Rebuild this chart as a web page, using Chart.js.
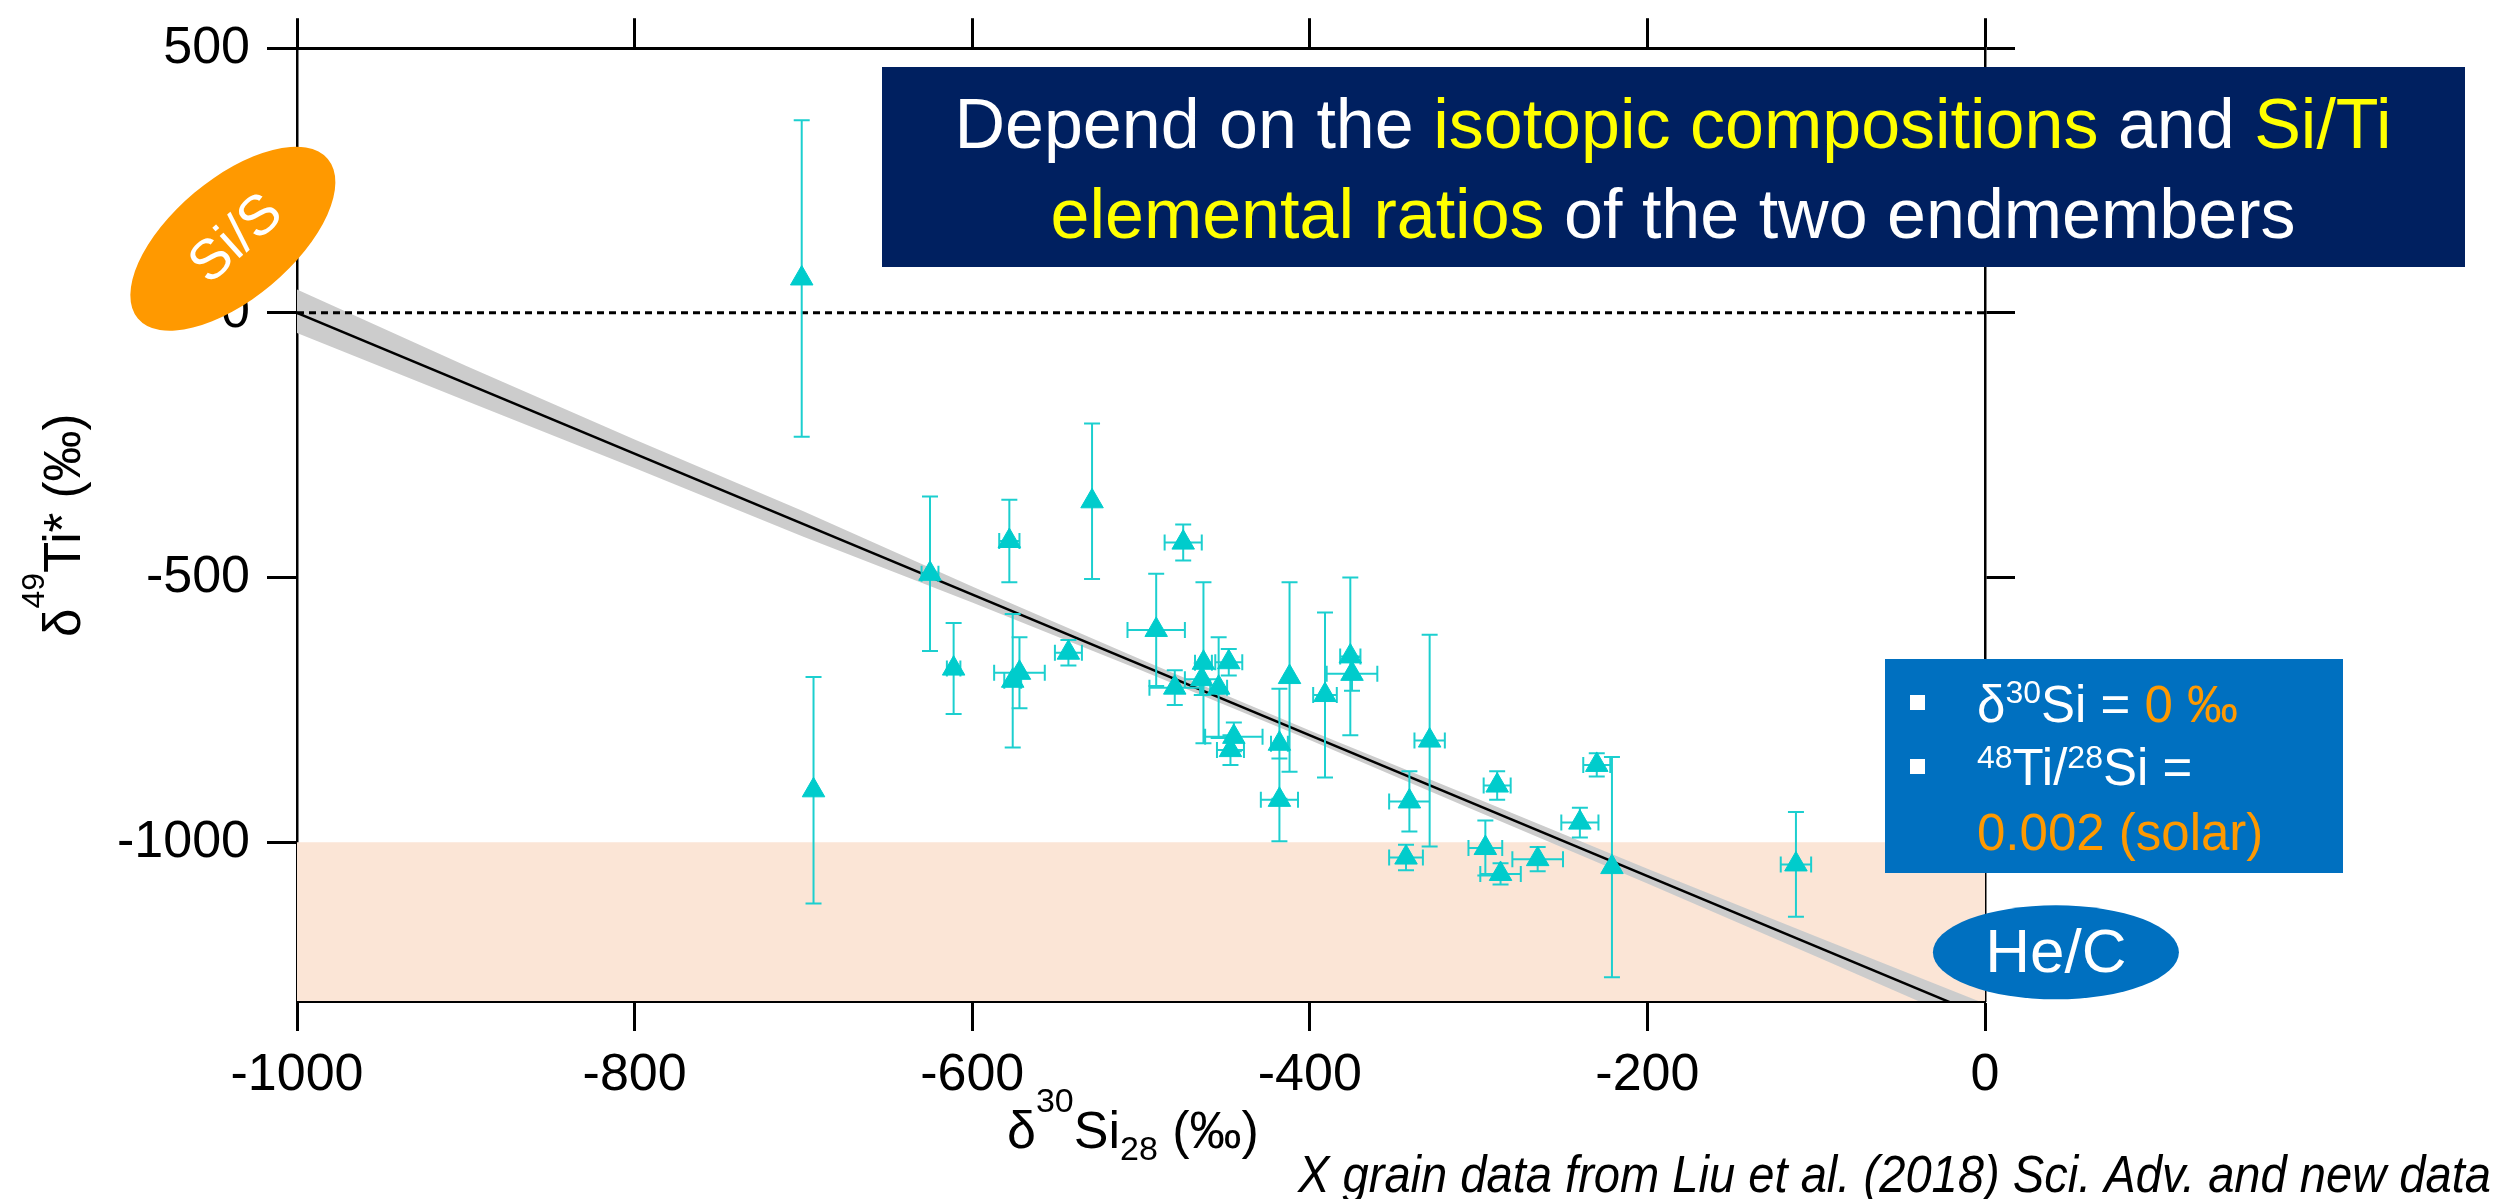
<!DOCTYPE html>
<html>
<head>
<meta charset="utf-8">
<title>δ49Ti* vs δ30Si</title>
<script src="https://cdn.jsdelivr.net/npm/chart.js@4.4.1/dist/chart.umd.min.js"></script>
<style>
  html, body { margin: 0; padding: 0; background: #fff; }
  canvas { display: block; }
</style>
</head>
<body>
<canvas id="mixing" width="2514" height="1199"></canvas>
<script>
// X grains: δ30Si (‰), δ49Ti* (‰) and their errors
const grainSi = [-701, -694, -625, -611, -578, -576, -572, -543, -529, -491, -480, -475, -463, -464, -454, -448, -445, -447, -418, -418, -412, -391, -376, -375, -329, -341, -343, -289, -296, -287, -265, -240, -230, -221, -112];
const grainTi = [65, -902, -493, -672, -431, -695, -680, -642, -356, -599, -708, -434, -661, -692, -708, -660, -801, -826, -814, -920, -688, -722, -649, -682, -808, -923, -1029, -893, -1011, -1060, -1032, -963, -854, -1047, -1042];
const grainSiErr = [0, 0, 5, 4, 6, 5, 15, 8, 0, 17, 15, 11, 5, 10, 5, 8, 17, 8, 5, 11, 0, 7, 6, 15, 9, 12, 10, 8, 10, 12, 15, 11, 8, 0, 9];
const grainTiErr = [299, 214, 146, 86, 78, 126, 67, 24, 147, 106, 33, 34, 152, 30, 95, 25, 27, 28, 104, 78, 179, 156, 149, 32, 200, 57, 24, 27, 52, 20, 23, 28, 22, 208, 99];

// two-endmember mixing line and its envelope
const fitSi = [-1000, 0];
const fitTi = [0, -1330];
const bandSi = [-1000, -900, -800, -700, -600, -500, -400, -300, -200, -100, 0];
const bandHigh = [44, -100, -239, -375, -517, -655, -789, -919, -1050, -1178, -1305];
const bandLow = [-38, -166, -293, -423, -547, -675, -807, -943, -1078, -1216, -1355];

// reference levels
const zeroSi = [-1000, 0];
const zeroTi = [0, 0];
const heCSi = [-1000, 0];
const heCTi = [-1000, -1000];

const xTicks = [-1000, -800, -600, -400, -200, 0];
const yTicks = [-1000, -500, 0, 500];

const FONT = '"Liberation Sans", Arial, Helvetica, sans-serif';
const font = (size, italic) => (italic ? 'italic ' : '') + size + 'px ' + FONT;
const CYAN = '#00cccc';
const ORANGE = '#ff9900';
const NOTE = 'X grain data from Liu et al. (2018) Sci. Adv. and new data';

const pts = (xs, ys) => xs.map((v, i) => ({ x: v, y: ys[i] }));

// draws a row of differently styled pieces of text (for super/subscripts)
function textRuns(ctx, x, y, runs, align) {
  let w = 0;
  runs.forEach(r => { ctx.font = font(r.size, r.italic); w += ctx.measureText(r.text).width; });
  if (align === 'center') x -= w / 2;
  ctx.textAlign = 'left';
  ctx.textBaseline = 'alphabetic';
  runs.forEach(r => {
    ctx.font = font(r.size, r.italic);
    ctx.fillStyle = r.color || '#000';
    ctx.fillText(r.text, x, y + (r.dy || 0));
    x += ctx.measureText(r.text).width;
  });
}

const errorBars = {
  id: 'errorBars',
  beforeDatasetDraw(chart, args) {
    if (!chart.data.datasets[args.index].withErrors) return;
    const { ctx, chartArea: a, scales: { x, y } } = chart;
    const cap = 8;
    ctx.save();
    ctx.beginPath();
    ctx.rect(a.left, a.top, a.right - a.left, a.bottom - a.top);
    ctx.clip();
    ctx.strokeStyle = '#1ccfcf';
    ctx.lineWidth = 2;
    ctx.beginPath();
    grainSi.forEach((si, i) => {
      const px = x.getPixelForValue(si);
      const py = y.getPixelForValue(grainTi[i]);
      if (grainTiErr[i]) {
        const t = y.getPixelForValue(grainTi[i] + grainTiErr[i]);
        const b = y.getPixelForValue(grainTi[i] - grainTiErr[i]);
        ctx.moveTo(px, t); ctx.lineTo(px, b);
        ctx.moveTo(px - cap, t); ctx.lineTo(px + cap, t);
        ctx.moveTo(px - cap, b); ctx.lineTo(px + cap, b);
      }
      if (grainSiErr[i]) {
        const l = x.getPixelForValue(si - grainSiErr[i]);
        const r = x.getPixelForValue(si + grainSiErr[i]);
        ctx.moveTo(l, py); ctx.lineTo(r, py);
        ctx.moveTo(l, py - cap); ctx.lineTo(l, py + cap);
        ctx.moveTo(r, py - cap); ctx.lineTo(r, py + cap);
      }
    });
    ctx.stroke();
    ctx.restore();
  }
};

const overlay = {
  id: 'overlay',
  afterDraw(chart) {
    const { ctx, scales: { x, y } } = chart;
    ctx.save();

    // axis titles
    textRuns(ctx, 1007, 1148, [
      { text: 'δ', size: 52 },
      { text: '30', size: 34, dy: -36 },
      { text: 'Si', size: 52 },
      { text: '28', size: 34, dy: 12 },
      { text: ' (‰)', size: 52 }
    ]);
    ctx.save();
    ctx.translate(80, 637);
    ctx.rotate(-Math.PI / 2);
    textRuns(ctx, 0, 0, [
      { text: 'δ', size: 51 },
      { text: '49', size: 32, dy: -36 },
      { text: 'Ti*', size: 51 },
      { text: ' (‰)', size: 51 }
    ]);
    ctx.restore();

    // source note, squeezed to its line
    ctx.save();
    ctx.font = font(52, true);
    const nw = ctx.measureText(NOTE).width;
    ctx.translate(1298, 1192);
    ctx.scale(1193 / nw, 1);
    ctx.fillStyle = '#000';
    ctx.textAlign = 'left';
    ctx.fillText(NOTE, 0, 0);
    ctx.restore();

    // Si/S endmember
    const sx = x.getPixelForValue(-1038), sy = y.getPixelForValue(140);
    ctx.fillStyle = ORANGE;
    ctx.beginPath();
    ctx.ellipse(sx, sy, 124, 60, -40 * Math.PI / 180, 0, Math.PI * 2);
    ctx.fill();
    ctx.save();
    ctx.translate(sx + 4, sy + 1);
    ctx.rotate(-42 * Math.PI / 180);
    ctx.fillStyle = '#fff';
    ctx.font = font(56);
    ctx.textAlign = 'center';
    ctx.textBaseline = 'middle';
    ctx.fillText('Si/S', 0, 0);
    ctx.restore();

    // He/C endmember
    const hx = x.getPixelForValue(42), hy = y.getPixelForValue(-1208);
    ctx.fillStyle = '#0070c0';
    ctx.beginPath();
    ctx.ellipse(hx, hy, 123, 47, 0, 0, Math.PI * 2);
    ctx.fill();
    ctx.fillStyle = '#fff';
    ctx.font = font(62);
    ctx.textAlign = 'center';
    ctx.textBaseline = 'middle';
    ctx.fillText('He/C', hx, hy + 3);

    // headline box
    ctx.fillStyle = '#002060';
    ctx.fillRect(882, 67, 1583, 200);
    textRuns(ctx, 1673, 148, [
      { text: 'Depend on the ', size: 70, color: '#fff' },
      { text: 'isotopic compositions', size: 70, color: '#ffff00' },
      { text: ' and ', size: 70, color: '#fff' },
      { text: 'Si/Ti', size: 70, color: '#ffff00' }
    ], 'center');
    textRuns(ctx, 1673, 238, [
      { text: 'elemental ratios', size: 70, color: '#ffff00' },
      { text: ' of the two endmembers', size: 70, color: '#fff' }
    ], 'center');

    // model parameters box
    ctx.fillStyle = '#0070c0';
    ctx.fillRect(1885, 659, 458, 214);
    ctx.fillStyle = '#fff';
    ctx.fillRect(1910, 695, 15, 15);
    ctx.fillRect(1910, 759, 15, 15);
    textRuns(ctx, 1977, 722, [
      { text: 'δ', size: 51, color: '#fff' },
      { text: '30', size: 32, dy: -19, color: '#fff' },
      { text: 'Si = ', size: 51, color: '#fff' },
      { text: '0 ‰', size: 51, color: ORANGE }
    ]);
    textRuns(ctx, 1977, 785, [
      { text: '48', size: 32, dy: -17, color: '#fff' },
      { text: 'Ti/', size: 51, color: '#fff' },
      { text: '28', size: 32, dy: -17, color: '#fff' },
      { text: 'Si =', size: 51, color: '#fff' }
    ]);
    textRuns(ctx, 1977, 850, [
      { text: '0.002 (solar)', size: 51, color: ORANGE }
    ]);

    ctx.restore();
  }
};

const tickFont = { family: FONT, size: 52 };
const plainTick = v => String(v);
const axisGrid = { drawOnChartArea: false, drawTicks: true, tickLength: 30, tickWidth: 3, tickColor: '#000', color: '#000' };

new Chart(document.getElementById('mixing'), {
  type: 'scatter',
  data: {
    datasets: [
      {
        label: 'X grains',
        data: pts(grainSi, grainTi),
        withErrors: true,
        pointStyle: 'triangle',
        pointRadius: 13,
        backgroundColor: CYAN,
        borderColor: CYAN,
        borderWidth: 1,
        order: 1
      },
      {
        type: 'line',
        label: 'mixing line',
        data: pts(fitSi, fitTi),
        borderColor: '#000',
        borderWidth: 2.5,
        pointRadius: 0,
        fill: false,
        clip: 0,
        order: 2
      },
      {
        type: 'line',
        label: 'zero',
        data: pts(zeroSi, zeroTi),
        borderColor: '#000',
        borderWidth: 3,
        borderDash: [7, 5],
        pointRadius: 0,
        fill: false,
        clip: 0,
        order: 3
      },
      {
        type: 'line',
        label: 'band high',
        data: pts(bandSi, bandHigh),
        borderWidth: 0,
        pointRadius: 0,
        fill: false,
        clip: 0,
        order: 4
      },
      {
        type: 'line',
        label: 'band low',
        data: pts(bandSi, bandLow),
        borderWidth: 0,
        pointRadius: 0,
        backgroundColor: '#cccccc',
        fill: '-1',
        clip: 0,
        order: 4
      },
      {
        type: 'line',
        label: 'He/C zone',
        data: pts(heCSi, heCTi),
        borderWidth: 0,
        pointRadius: 0,
        backgroundColor: '#fbe5d6',
        fill: 'start',
        clip: 0,
        order: 5
      }
    ]
  },
  options: {
    responsive: false,
    animation: false,
    events: [],
    layout: { padding: 0 },
    plugins: { legend: { display: false }, tooltip: { enabled: false } },
    scales: {
      x: {
        type: 'linear', position: 'bottom', min: -1000, max: 0, z: 1,
        afterBuildTicks: s => { s.ticks = xTicks.map(v => ({ value: v })); },
        afterFit: s => { s.height = 198; },
        ticks: { font: tickFont, color: '#000', padding: 13, maxRotation: 0, autoSkip: false, callback: plainTick },
        grid: axisGrid,
        border: { display: true, color: '#000', width: 3 }
      },
      x2: {
        type: 'linear', position: 'top', min: -1000, max: 0, z: 1,
        afterBuildTicks: s => { s.ticks = xTicks.map(v => ({ value: v })); },
        afterFit: s => { s.height = 38; },
        ticks: { display: false },
        grid: axisGrid,
        border: { display: true, color: '#000', width: 3 }
      },
      y: {
        type: 'linear', position: 'left', min: -1300, max: 500, z: 1,
        afterBuildTicks: s => { s.ticks = yTicks.map(v => ({ value: v })); },
        afterFit: s => { s.width = 297; },
        ticks: { font: tickFont, color: '#000', padding: 17, autoSkip: false, callback: plainTick },
        grid: axisGrid,
        border: { display: true, color: '#000', width: 2.5 }
      },
      y2: {
        type: 'linear', position: 'right', min: -1300, max: 500, z: 1,
        afterBuildTicks: s => { s.ticks = yTicks.map(v => ({ value: v })); },
        afterFit: s => { s.width = 529; },
        ticks: { display: false },
        grid: axisGrid,
        border: { display: true, color: '#000', width: 2.5 }
      }
    }
  },
  plugins: [errorBars, overlay]
});
</script>
</body>
</html>
